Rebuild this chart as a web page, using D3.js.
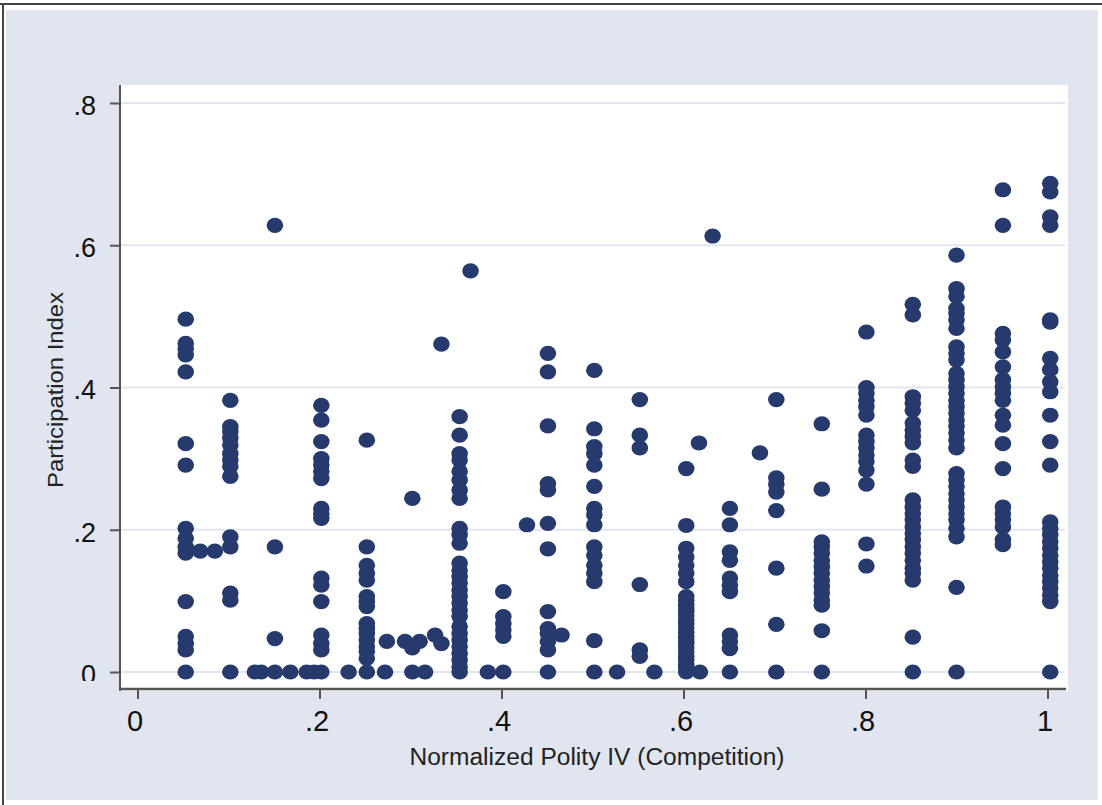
<!DOCTYPE html>
<html>
<head>
<meta charset="utf-8">
<script src="https://cdn.jsdelivr.net/npm/d3@7"></script>
<style>
  body { margin: 0; background: #ffffff; }
  svg { display: block; }
</style>
</head>
<body>
<div id="chart"></div>
<script>
// tick labels
var xTicks = [0, .2, .4, .6, .8, 1]
var yTicks = [0, .2, .4, .6, .8]
var xTickText = ["0", ".2", ".4", ".6", ".8", "1"]
var yTickText = ["0", ".2", ".4", ".6", ".8"]

// main columns of points: x value of each column, and its y values
var colX = [0.053, 0.102, 0.151, 0.202, 0.252, 0.302, 0.354, 0.402, 0.451, 0.502,
            0.552, 0.603, 0.651, 0.702, 0.752, 0.801, 0.852, 0.900, 0.951, 1.003]

var col05 = [0.496, 0.462, 0.455, 0.446, 0.422, 0.321, 0.291, 0.202, 0.188, 0.176, 0.167, 0.099, 0.050, 0.040, 0.031, 0]
var col10 = [0.382, 0.345, 0.338, 0.329, 0.319, 0.307, 0.298, 0.289, 0.275, 0.190, 0.176, 0.111, 0.101, 0]
var col15 = [0.628, 0.176, 0.047, 0]
var col20 = [0.375, 0.354, 0.324, 0.300, 0.291, 0.282, 0.272, 0.230, 0.222, 0.216, 0.132, 0.122, 0.099, 0.052, 0.040, 0.031, 0]
var col25 = [0.326, 0.176, 0.150, 0.139, 0.129, 0.106, 0.099, 0.092, 0.068, 0.061, 0.054, 0.045, 0.036, 0.029, 0.019, 0]
var col30 = [0.244, 0.034, 0]
var col35 = [0.359, 0.333, 0.307, 0.298, 0.282, 0.270, 0.256, 0.244, 0.202, 0.193, 0.181, 0.153, 0.143, 0.134, 0.125,
             0.115, 0.106, 0.097, 0.087, 0.078, 0.064, 0.054, 0.045, 0.036, 0.026, 0.017, 0.007, 0]
var col40 = [0.113, 0.078, 0.068, 0.059, 0.050, 0]
var col45 = [0.448, 0.422, 0.346, 0.265, 0.256, 0.209, 0.173, 0.085, 0.061, 0.054, 0.043, 0.031, 0]
var col50 = [0.424, 0.342, 0.317, 0.307, 0.291, 0.261, 0.230, 0.221, 0.207, 0.176, 0.164, 0.150, 0.139, 0.127, 0.044, 0]
var col55 = [0.383, 0.333, 0.315, 0.123, 0.031, 0.022]
var col60 = [0.286, 0.206, 0.174, 0.162, 0.150, 0.139, 0.127, 0.106, 0.101, 0.095, 0.090, 0.085, 0.079, 0.073,
             0.068, 0.062, 0.056, 0.050, 0.045, 0.040, 0.034, 0.028, 0.022, 0.017, 0.011, 0.006, 0]
var col65 = [0.230, 0.207, 0.169, 0.157, 0.132, 0.122, 0.113, 0.052, 0.043, 0.033, 0]
var col70 = [0.383, 0.273, 0.264, 0.253, 0.227, 0.146, 0.067, 0]
var col75 = [0.349, 0.257, 0.183, 0.176, 0.167, 0.157, 0.148, 0.139, 0.129, 0.120, 0.111, 0.101, 0.094, 0.058, 0]
var col80 = [0.478, 0.400, 0.392, 0.382, 0.373, 0.361, 0.333, 0.324, 0.315, 0.305, 0.296, 0.284, 0.264, 0.180, 0.149]
var col85 = [0.517, 0.502, 0.387, 0.378, 0.368, 0.350, 0.340, 0.331, 0.322, 0.298, 0.289, 0.242, 0.232, 0.223, 0.214,
             0.204, 0.195, 0.186, 0.176, 0.167, 0.157, 0.146, 0.139, 0.129, 0.049, 0]
var col90 = [0.586, 0.539, 0.528, 0.511, 0.504, 0.495, 0.483, 0.457, 0.448, 0.439, 0.420, 0.411, 0.401, 0.392, 0.382,
             0.373, 0.364, 0.354, 0.345, 0.336, 0.326, 0.315, 0.279, 0.270, 0.261, 0.251, 0.242, 0.232, 0.223, 0.214,
             0.202, 0.190, 0.119, 0]
var col95 = [0.678, 0.628, 0.476, 0.467, 0.450, 0.429, 0.411, 0.401, 0.392, 0.382, 0.361, 0.347, 0.321, 0.286, 0.232,
             0.223, 0.214, 0.204, 0.186, 0.179]
var col100 = [0.687, 0.675, 0.640, 0.628, 0.495, 0.492, 0.441, 0.425, 0.408, 0.394, 0.361, 0.324, 0.291, 0.211, 0.202,
              0.193, 0.183, 0.174, 0.164, 0.155, 0.146, 0.136, 0.127, 0.118, 0.108, 0.099, 0]

var colY = [col05, col10, col15, col20, col25, col30, col35, col40, col45, col50,
            col55, col60, col65, col70, col75, col80, col85, col90, col95, col100]

// loose points between the columns
var extraX = [0.069, 0.085, 0.129, 0.136, 0.168, 0.186, 0.194, 0.232, 0.272, 0.274, 0.294, 0.310, 0.316, 0.327, 0.334,
              0.334, 0.366, 0.385, 0.428, 0.466, 0.527, 0.568, 0.617, 0.618, 0.632, 0.684]
var extraY = [0.170, 0.170, 0, 0, 0, 0, 0, 0, 0, 0.043, 0.043, 0.043, 0, 0.052, 0.040,
              0.461, 0.564, 0, 0.207, 0.052, 0, 0, 0.322, 0, 0.613, 0.308]

var W = 1102, H = 805
var plot = {left: 120, right: 1068, top: 85, bottom: 691}
var font = "'Liberation Sans', Arial, sans-serif"

var svg = d3.select("#chart").append("svg")
  .attr("width", W)
  .attr("height", H)

var x = d3.scaleLinear().domain([0, 1]).range([137.5, 1047.5])
var y = d3.scaleLinear().domain([0, .8]).range([672, 103])

// outer frame + background
svg.append("rect").attr("x", 0).attr("y", 0).attr("width", W).attr("height", H).attr("fill", "#ffffff")
svg.append("rect").attr("x", 6).attr("y", 10).attr("width", 1092).attr("height", 790).attr("fill", "#e0e5f0")
svg.append("line").attr("x1", 0).attr("x2", W).attr("y1", 4).attr("y2", 4)
  .attr("stroke", "#444").attr("stroke-width", 2)
svg.append("line").attr("x1", 3).attr("x2", 3).attr("y1", 4).attr("y2", H)
  .attr("stroke", "#444").attr("stroke-width", 2)

// plot region
svg.append("rect")
  .attr("x", plot.left).attr("y", plot.top)
  .attr("width", plot.right - plot.left).attr("height", plot.bottom - plot.top)
  .attr("fill", "#ffffff")

// gridlines
svg.append("g").selectAll("line")
  .data(yTicks)
  .enter().append("line")
    .attr("x1", plot.left + 1).attr("x2", plot.right - 3)
    .attr("y1", function(d) { return y(d) }).attr("y2", function(d) { return y(d) })
    .attr("stroke", "#e1e6f1").attr("stroke-width", 2)

// points
var points = []
for (var i = 0; i < colX.length; i++) {
  for (var j = 0; j < colY[i].length; j++) {
    points.push({x: colX[i], y: colY[i][j]})
  }
}
for (var i = 0; i < extraX.length; i++) {
  points.push({x: extraX[i], y: extraY[i]})
}

svg.append("g").selectAll("ellipse")
  .data(points)
  .enter().append("ellipse")
    .attr("cx", function(d) { return x(d.x) })
    .attr("cy", function(d) { return y(d.y) })
    .attr("rx", 8.3)
    .attr("ry", 7.6)
    .attr("fill", "#263a6e")

// axes
var axisColor = "#555"
var yAxis = d3.axisLeft(y).tickValues(yTicks).tickSize(10).tickFormat(function(d, i) { return yTickText[i] })
var xAxis = d3.axisBottom(x).tickValues(xTicks).tickSize(10).tickFormat(function(d, i) { return xTickText[i] })

// the "0" on the y axis is cut off at the bottom in the original
svg.append("clipPath").attr("id", "ylabclip")
  .append("rect").attr("x", -plot.left).attr("y", 0).attr("width", plot.left + 20).attr("height", 681)

var gy = svg.append("g")
  .attr("transform", "translate(" + plot.left + ",0)")
  .attr("clip-path", "url(#ylabclip)")
  .call(yAxis)
gy.select(".domain").remove()
gy.selectAll(".tick line").attr("stroke", axisColor).attr("stroke-width", 2)
gy.selectAll(".tick text")
  .attr("x", -24)
  .attr("dy", "0.42em")
  .style("font-family", font)
  .style("font-size", "27px")
  .attr("fill", "#111")

var gx = svg.append("g")
  .attr("transform", "translate(0," + (plot.bottom - 2) + ")")
  .call(xAxis)
gx.select(".domain").remove()
gx.selectAll(".tick line").attr("stroke", axisColor).attr("stroke-width", 2)
gx.selectAll(".tick text")
  .attr("x", -3)
  .attr("y", 21)
  .attr("dy", "0.71em")
  .style("font-family", font)
  .style("font-size", "29px")
  .attr("fill", "#111")

// axis lines
svg.append("line")
  .attr("x1", plot.left).attr("x2", plot.left)
  .attr("y1", plot.top).attr("y2", plot.bottom)
  .attr("stroke", axisColor).attr("stroke-width", 2)
svg.append("line")
  .attr("x1", plot.left).attr("x2", plot.right - 2)
  .attr("y1", plot.bottom - 2).attr("y2", plot.bottom - 2)
  .attr("stroke", axisColor).attr("stroke-width", 2.5)

// axis titles
svg.append("text")
  .attr("x", 597).attr("y", 765)
  .attr("text-anchor", "middle")
  .attr("textLength", 375)
  .attr("lengthAdjust", "spacingAndGlyphs")
  .style("font-family", font)
  .style("font-size", "23px")
  .attr("fill", "#222")
  .text("Normalized Polity IV (Competition)")

svg.append("text")
  .attr("transform", "translate(63,390) rotate(-90)")
  .attr("text-anchor", "middle")
  .attr("textLength", 196)
  .attr("lengthAdjust", "spacingAndGlyphs")
  .style("font-family", font)
  .style("font-size", "22px")
  .attr("fill", "#222")
  .text("Participation Index")
</script>
</body>
</html>
